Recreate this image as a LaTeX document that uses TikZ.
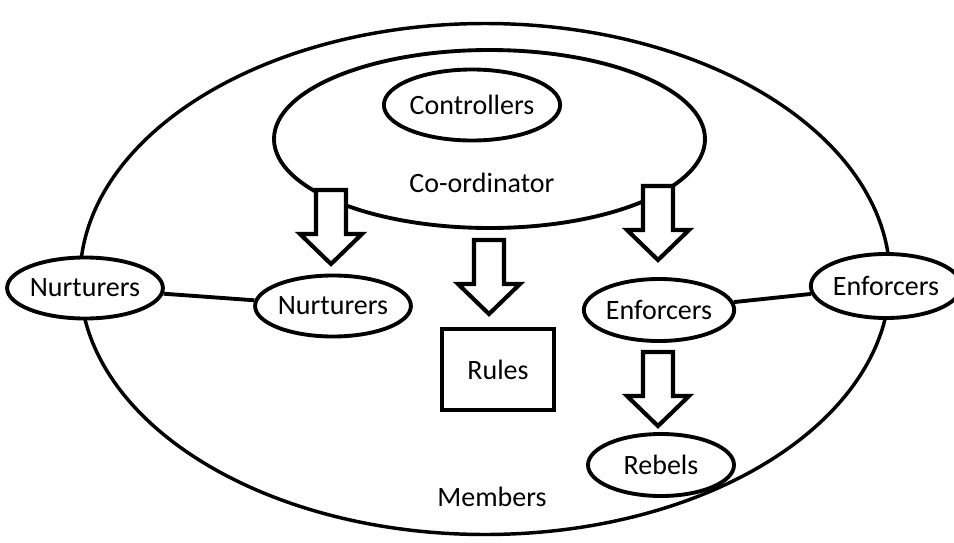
\documentclass[tikz,border=0pt]{standalone}
\usepackage{fontspec}
\setmainfont{Carlito}
\usepackage{tikz}
\usetikzlibrary{shapes,calc,positioning}

\newcommand{\lblfont}{\fontsize{21}{25}\selectfont}
% hollow block arrow pointing down, top of shaft at #1
\newcommand{\blockarrow}[1]{%
  \draw[line width=3.1pt,fill=white,line join=miter,shift={#1}]
    (-15,0) -- (15,0) -- (15,44) -- (31,44) -- (0,74) -- (-31,44) -- (-15,44) -- cycle ;}

\tikzset{
  wh/.style 2 args={minimum width=#1*0.75pt,minimum height=#2*0.75pt},
  role/.style={draw,ellipse,line width=2.9pt,fill=white,inner sep=0pt,font=\lblfont},
  rulebox/.style={draw,rectangle,line width=3.2pt,fill=white,inner sep=0pt,font=\lblfont},
  link/.style={line width=2.9pt}
}

\begin{document}
\begin{tikzpicture}[x=0.75pt,y=0.75pt,yscale=-1,xscale=1]
\useasboundingbox (0,0) rectangle (954,543);

%Shape: Ellipse (members)
\node[role,line width=2.6pt,fill=none,wh={810}{511}] (members) at (485,279) {};
%Shape: Ellipse (co-ordinator)
\node[role,wh={431}{178}] (coord) at (489.5,139) {};
\node[font=\lblfont] (coordlbl) at (482,183) {Co-ordinator};
\node[role,wh={165}{71}] (ctrl) at (472,105) {Controllers};

%Block arrows
\blockarrow{(331,190)}
\blockarrow{(489,240)}
\blockarrow{(658,186)}
\blockarrow{(658,352)}

%Roles
\node[role,wh={140}{61}] (nurtout) at (85,288) {Nurturers};
\node[role,wh={138}{61}] (nurtin) at (333,306) {Nurturers};
\node[role,wh={145}{62}] (enfin) at (659,310) {Enforcers};
\node[role,wh={134}{64}] (enfout) at (886,286) {Enforcers};
\node[role,wh={146}{62}] (rebels) at (661,465) {Rebels};
\node[rulebox,wh={112}{81}] (rules) at (498,369.5) {Rules};
\node[font=\lblfont] (memberslbl) at (492,497) {Members};

%Straight Lines
\draw[link] (nurtout) -- (nurtin) ;
\draw[link] (enfin) -- (enfout) ;

\end{tikzpicture}
\end{document}
